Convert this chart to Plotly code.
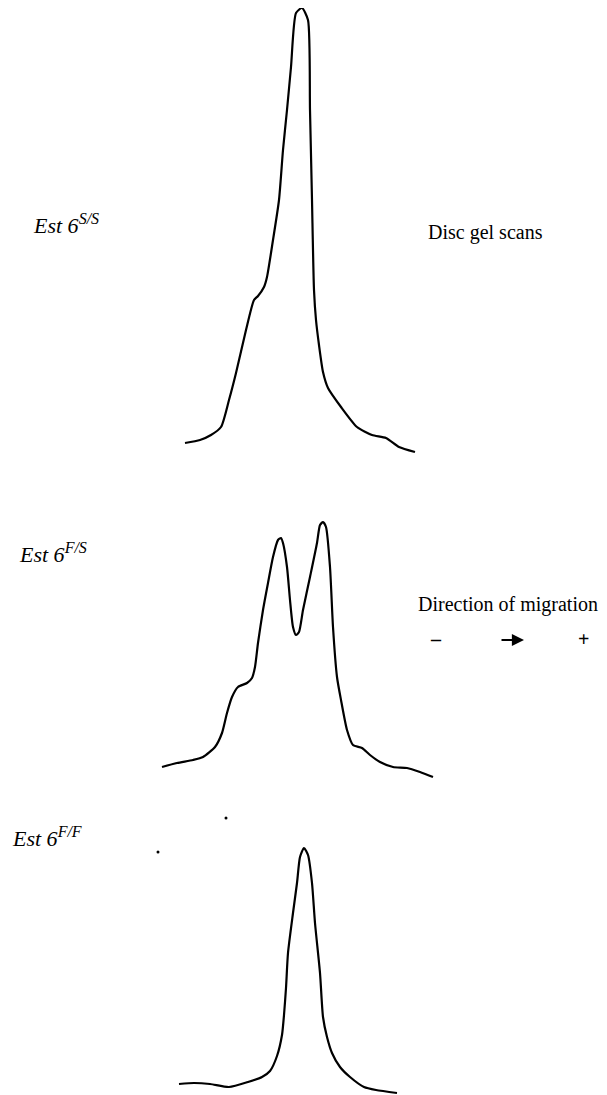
import plotly.graph_objects as go

ss_pos = [185, 200, 211, 221, 229, 236, 246, 254, 258, 264, 267, 273, 279, 283, 287, 291, 296, 302,
          308, 310, 312, 314, 316, 319, 323, 328, 341, 357, 372, 386, 399, 415]
ss_val = [443, 440, 435, 427, 400, 373, 330, 300, 296, 287, 277, 240, 200, 150, 110, 67, 13, 8,
          20, 110, 200, 290, 320, 345, 372, 388, 407, 427, 435, 438, 447, 452]

fs_pos = [162, 177, 193, 203, 215, 222, 227, 232, 238, 247, 252, 255, 258, 263, 268, 273, 278, 281,
          283, 287, 290, 293, 296, 299, 303, 310, 317, 320, 323, 326, 330, 333, 337, 341, 347, 353,
          362, 370, 380, 393, 407, 420, 433]
fs_val = [767, 763, 760, 757, 747, 733, 713, 697, 687, 683, 678, 667, 643, 610, 583, 557, 540, 538,
          543, 567, 600, 627, 635, 632, 610, 577, 543, 525, 522, 527, 567, 627, 677, 700, 730, 745,
          748, 755, 762, 767, 768, 772, 777]

ff_pos = [179, 194, 210, 229, 248, 262, 270, 277, 282, 284, 286, 288, 293, 297, 300, 304, 308, 312,
          315, 320, 323, 327, 332, 340, 350, 364, 376, 397]
ff_val = [1084, 1083, 1084, 1087, 1082, 1077, 1071, 1056, 1035, 1015, 988, 953, 913, 883, 857, 848,
          855, 883, 923, 973, 1017, 1037, 1053, 1067, 1077, 1087, 1090, 1093]

speck_pos = [226, 158]
speck_val = [818, 852]

genotypes = ["S/S", "F/S", "F/F"]

fig = go.Figure()
line = dict(color="black", width=2.2, shape="spline", smoothing=0.6)
for xs, ys, nm in [(ss_pos, ss_val, "S/S"), (fs_pos, fs_val, "F/S"), (ff_pos, ff_val, "F/F")]:
    fig.add_trace(go.Scatter(x=xs, y=ys, mode="lines", line=line, name=nm, showlegend=False,
                             hoverinfo="skip"))
fig.add_trace(go.Scatter(x=speck_pos, y=speck_val, mode="markers",
                         marker=dict(color="black", size=3), showlegend=False, hoverinfo="skip"))

serif = "Liberation Serif, Times New Roman, serif"
ann = []
for g, x, y in zip(genotypes, [31, 17, 10], [224, 553, 837]):
    txt = "<i>Est 6<sup><span style='font-size:16px'>%s</span></sup></i>" % g
    ann.append(dict(x=x, y=y, text=txt, xanchor="left", yanchor="middle", showarrow=False,
                    font=dict(family=serif, size=22, color="black")))
ann.append(dict(x=426, y=232, text="Disc gel scans", xanchor="left", yanchor="middle",
                showarrow=False, font=dict(family=serif, size=20, color="black")))
ann.append(dict(x=416, y=604, text="Direction of migration", xanchor="left", yanchor="middle",
                showarrow=False, font=dict(family=serif, size=20, color="black")))
ann.append(dict(x=436, y=639, text="<b>–</b>", xanchor="center", yanchor="middle",
                showarrow=False, font=dict(family=serif, size=20, color="black")))
ann.append(dict(x=583, y=639, text="<b>+</b>", xanchor="center", yanchor="middle",
                showarrow=False, font=dict(family=serif, size=20, color="black")))
ann.append(dict(x=524, y=640, ax=500, ay=640, xref="x", yref="y", axref="x", ayref="y",
                text="", showarrow=True, arrowhead=2, arrowsize=1.1, arrowwidth=2.2,
                arrowcolor="black"))

# the page body adds an 8px margin, so the figure covers page pixels 8..607 / 8..1095
fig.update_layout(
    width=599, height=1087,
    margin=dict(l=0, r=0, t=0, b=0),
    paper_bgcolor="white", plot_bgcolor="white",
    xaxis=dict(range=[8, 607], visible=False, fixedrange=True),
    yaxis=dict(range=[1095, 8], visible=False, fixedrange=True),
    annotations=ann,
)
fig.write_html("out.html")
